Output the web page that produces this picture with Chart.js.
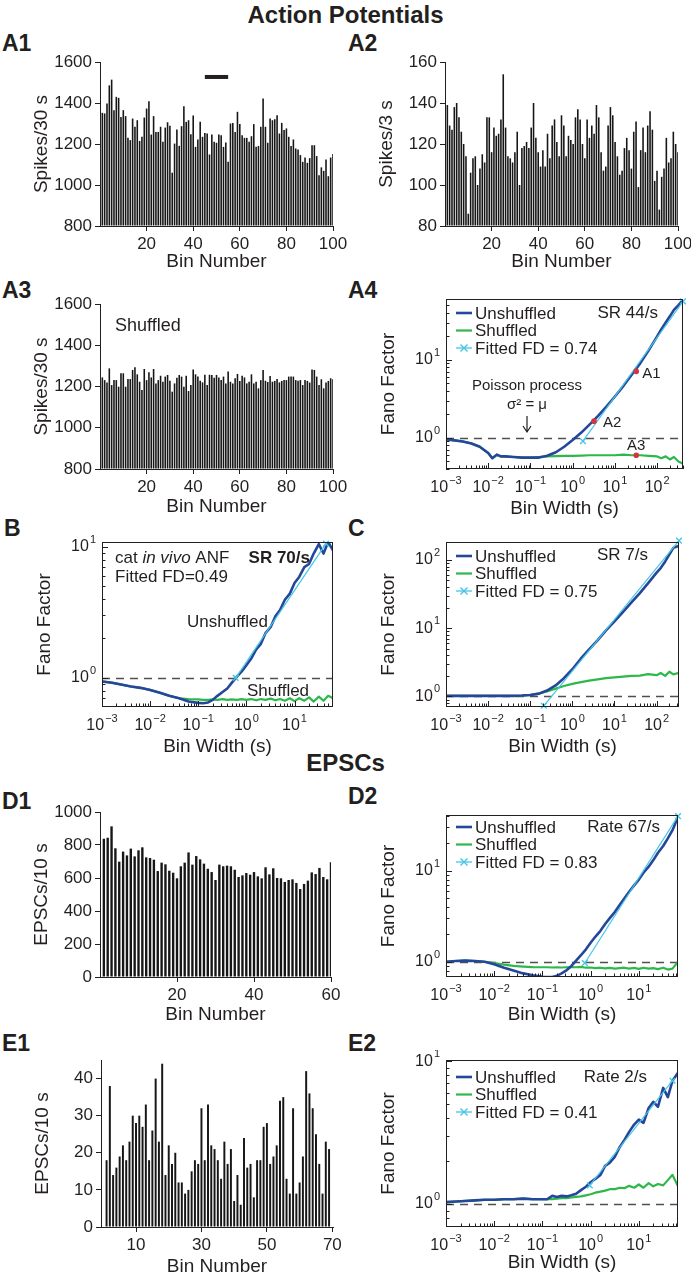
<!DOCTYPE html>
<html lang="en">
<head>
<meta charset="utf-8">
<title>Fano factor analysis</title>
<script src="https://cdn.jsdelivr.net/npm/chart.js@4.4.1/dist/chart.umd.min.js"></script>
<style>
  html, body { margin: 0; padding: 0; background: #fff; }
  #fig { position: relative; width: 691px; height: 1280px; overflow: hidden;
         font-family: "Liberation Sans", Arial, sans-serif; color: #231f20; }
  .head { position: absolute; left: 0; width: 691px; text-align: center; font-weight: bold; font-size: 24px; line-height: 1; }
  .lab { position: absolute; font-weight: bold; font-size: 23px; line-height: 1; }
  #fig canvas { position: absolute; }
</style>
</head>
<body>
<div id="fig">
  <div class="head" style="top:3px">Action Potentials</div>
  <div class="lab" style="left:2px;top:32px">A1</div>
  <div class="lab" style="left:348px;top:32px">A2</div>
  <div class="lab" style="left:2px;top:279px">A3</div>
  <div class="lab" style="left:348px;top:279px">A4</div>
  <div class="lab" style="left:4px;top:517px">B</div>
  <div class="lab" style="left:348px;top:517px">C</div>
  <div class="head" style="top:751px">EPSCs</div>
  <div class="lab" style="left:2px;top:790px">D1</div>
  <div class="lab" style="left:348px;top:785px">D2</div>
  <div class="lab" style="left:2px;top:1032px">E1</div>
  <div class="lab" style="left:348px;top:1032px">E2</div>
  <canvas id="a1"></canvas>
  <canvas id="a2"></canvas>
  <canvas id="a3"></canvas>
  <canvas id="a4"></canvas>
  <canvas id="b"></canvas>
  <canvas id="c"></canvas>
  <canvas id="d1"></canvas>
  <canvas id="d2"></canvas>
  <canvas id="e1"></canvas>
  <canvas id="e2"></canvas>
</div>
<script>
const FONT = '"Liberation Sans", Arial, sans-serif';
const INK = '#231f20';
const BAR = '#161616';
const BLUE = '#24479a';
const GREEN = '#2eb84b';
const CYAN = '#45c6e6';
const RED = '#d6333a';

// ---------- count histograms ----------
const bins100 = Array.from({ length: 100 }, (_, i) => i + 1);
const bins60 = Array.from({ length: 60 }, (_, i) => i + 1);
const bins69 = Array.from({ length: 69 }, (_, i) => i + 1);

const spikesA1 = [1352,1349,1397,1486,1514,1365,1430,1425,1332,1365,
  1336,1230,1219,1324,1284,1316,1215,1235,1329,1373,
  1408,1246,1336,1259,1259,1284,1211,1280,1306,1289,
  1060,1202,1271,1191,1287,1384,1308,1316,1248,1339,
  1186,1222,1308,1235,1254,1251,1149,1246,1211,1206,
  1246,1243,1186,1207,1113,1300,1303,1258,1357,1297,
  1243,1230,1230,1211,1238,1297,1186,1190,1284,1422,
  1284,1206,1324,1316,1321,1340,1251,1303,1268,1276,
  1235,1190,1222,1178,1173,1146,1113,1134,1108,1131,
  1194,1194,1141,1048,1086,1069,1125,1043,1134,1151];

const spikesA2 = [139,129,127,138,140,133,126,120,114,86,
  106,113,114,100,108,115,111,133,133,116,
  128,124,125,132,154,128,114,113,111,116,
  126,100,118,119,121,118,128,140,123,116,
  109,117,109,125,113,129,132,121,114,134,
  129,114,124,122,120,133,137,132,120,113,
  132,123,129,125,139,133,116,107,109,129,
  138,134,121,114,105,107,118,123,117,108,
  126,131,99,117,128,116,129,136,127,102,
  107,88,104,108,123,111,113,126,120,116];

const spikesA3 = [1244,1231,1219,1288,1207,1231,1231,1199,1264,1264,
  1199,1236,1236,1280,1293,1259,1223,1183,1285,1231,
  1269,1244,1285,1215,1231,1252,1223,1248,1256,1228,
  1175,1215,1243,1256,1248,1199,1252,1178,1207,1283,
  1259,1248,1228,1220,1257,1207,1257,1256,1243,1256,
  1244,1231,1248,1215,1273,1223,1215,1240,1261,1227,
  1252,1244,1215,1223,1259,1215,1223,1191,1231,1280,
  1228,1222,1251,1223,1227,1236,1220,1227,1231,1231,
  1248,1248,1248,1231,1228,1231,1207,1231,1227,1219,
  1283,1280,1248,1207,1235,1191,1219,1227,1240,1235];

const epscD1 = [838,844,913,780,699,760,737,778,731,768,
  786,725,721,711,642,693,683,644,632,598,
  671,693,755,681,733,713,687,656,636,588,
  681,671,675,671,650,606,616,630,620,636,
  610,598,665,622,659,600,598,576,588,592,
  570,533,564,584,634,624,661,606,592,695];

const epscE1 = [18,38,14,16,19,22,18,23,30,28,
  30,27,33,18,26,40,23,44,14,22,
  17,20,12,12,9,10,15,18,17,32,
  18,33,22,21,18,13,23,17,21,7,
  14,6,24,16,17,8,18,18,27,28,
  17,19,22,34,35,13,9,32,9,12,
  19,42,36,32,25,17,9,23,21];

// ---------- Fano factor curves (bin width in s) ----------
const widthA4 = [0.001,0.0016,0.0025,0.004,0.0063,0.01,0.0125,0.016,0.02,0.025,
  0.04,0.063,0.1,0.16,0.25,0.4,0.63,1,1.6,2.5,
  4,6.3,10,16,25,40,63,100,125,160,
  200,250,320,400];
const unshA4 = [0.96,0.93,0.90,0.85,0.77,0.64,0.55,0.61,0.58,0.58,
  0.57,0.56,0.56,0.56,0.59,0.655,0.77,0.94,1.17,1.48,
  1.91,2.52,3.39,4.64,6.42,9.06,13.2,19.9,24.5,30,
  36,43.6,50,57.5];
const shufA4 = [0.96,0.93,0.90,0.85,0.77,0.64,0.55,0.61,0.58,0.58,
  0.57,0.56,0.56,0.57,0.58,0.585,0.59,0.59,0.595,0.6,
  0.6,0.6,0.6,0.61,0.6,0.6,0.59,0.58,0.55,0.58,
  0.53,0.57,0.5,0.47];
const fitA4Width = [1.75, 410];
const fitA4Fano = [0.91, 56];
const markA4Width = [32, 3.2, 32];
const markA4Fano = [7.1, 1.64, 0.6];
const markA4Label = ['A1', 'A2', 'A3'];

const widthB = [0.001,0.0016,0.0025,0.004,0.0063,0.01,0.016,0.025,0.04,0.063,
  0.1,0.125,0.16,0.2,0.25,0.32,0.4,0.5,0.63,0.8,
  1,1.25,1.6,2,2.5,3.2,4,5,6.3,8,
  10,12.5,16,20,25,32,40,50,63];
const unshB = [0.94,0.92,0.89,0.86,0.84,0.81,0.77,0.73,0.70,0.66,
  0.645,0.64,0.65,0.68,0.73,0.78,0.83,0.92,1.02,1.12,
  1.25,1.40,1.65,1.82,2.2,2.45,2.95,3.3,3.95,4.4,
  5.3,5.9,7.0,7.4,8.9,10.5,8.9,10.9,9.4];
const shufB = [0.94,0.92,0.89,0.86,0.84,0.81,0.77,0.73,0.70,0.69,
  0.685,0.68,0.68,0.685,0.68,0.69,0.68,0.685,0.68,0.69,
  0.68,0.69,0.675,0.69,0.68,0.695,0.675,0.69,0.67,0.70,
  0.665,0.70,0.67,0.71,0.66,0.72,0.67,0.73,0.70];
const fitBWidth = [0.6, 45];
const fitBFano = [1.0, 10.6];

const widthC = [0.001,0.0016,0.0025,0.004,0.0063,0.01,0.016,0.025,0.04,0.063,
  0.1,0.16,0.25,0.4,0.63,1,1.6,2.5,4,6.3,
  10,16,25,40,63,100,125,160,200,250,
  330];
const unshC = [1.02,1.02,1.02,1.02,1.02,1.02,1.02,1.02,1.02,1.03,
  1.05,1.1,1.22,1.45,1.85,2.5,3.6,4.9,6.7,9.3,
  12.6,17.3,23.6,32.6,45.7,65,76,95,120,150,
  160];
const shufC = [1.02,1.02,1.02,1.02,1.02,1.02,1.02,1.02,1.02,1.03,
  1.05,1.1,1.18,1.3,1.42,1.53,1.62,1.7,1.78,1.85,
  1.9,1.95,2.0,2.02,2.12,2.05,2.2,2.0,2.3,2.1,
  2.2];
const fitCWidth = [0.21, 340];
const fitCFano = [0.73, 192];

const widthD2 = [0.001,0.0016,0.0025,0.004,0.0063,0.01,0.016,0.025,0.04,0.063,
  0.1,0.125,0.16,0.2,0.25,0.32,0.4,0.5,0.63,0.8,
  1,1.25,1.6,2,2.5,3.2,4,5,6.3,8,
  10,12.5,16,20,25,32,40,50,65];
const unshD2 = [1.0,1.02,1.03,1.02,1.0,0.94,0.86,0.80,0.745,0.71,
  0.685,0.68,0.68,0.70,0.745,0.81,0.9,1.03,1.18,1.37,
  1.62,1.88,2.19,2.6,3.02,3.54,4.2,4.96,5.87,6.9,
  8.0,9.5,11.1,13.1,15.8,18.7,22.7,27.9,39];
const shufD2 = [1.0,1.02,1.03,1.02,1.0,0.97,0.93,0.9,0.885,0.875,
  0.87,0.87,0.865,0.87,0.865,0.87,0.875,0.87,0.88,0.86,
  0.865,0.85,0.86,0.845,0.855,0.84,0.85,0.86,0.84,0.855,
  0.835,0.86,0.84,0.85,0.83,0.86,0.82,0.84,1.0];
const fitD2Width = [0.76, 65];
const fitD2Fano = [0.97, 39.8];

const widthE2 = [0.001,0.0016,0.0025,0.004,0.0063,0.01,0.016,0.025,0.04,0.063,
  0.1,0.125,0.16,0.2,0.25,0.32,0.4,0.5,0.63,0.8,
  1,1.25,1.6,2,2.5,3.2,4,5,6.3,8,
  10,12.5,16,20,25,32,40,50,65];
const unshE2 = [1.03,1.04,1.05,1.06,1.07,1.07,1.08,1.08,1.09,1.08,
  1.08,1.08,1.14,1.12,1.14,1.13,1.15,1.18,1.25,1.32,
  1.42,1.5,1.6,1.85,1.95,2.15,2.5,2.8,3.2,3.6,
  3.9,3.7,4.7,5.2,4.8,6.5,5.6,7.3,8.3];
const shufE2 = [1.03,1.04,1.05,1.06,1.07,1.07,1.08,1.08,1.09,1.08,
  1.08,1.08,1.08,1.09,1.1,1.1,1.11,1.12,1.13,1.15,
  1.17,1.2,1.22,1.24,1.27,1.27,1.3,1.29,1.34,1.3,
  1.37,1.3,1.4,1.33,1.38,1.35,1.47,1.6,1.33];
const fitE2Width = [0.96, 50];
const fitE2Fano = [1.35, 7.3];

// ---------- helpers ----------
Chart.defaults.font.family = FONT;
Chart.defaults.color = INK;

const PAD = { l: 100, r: 16, t: 10, b: 52 };

function sizeCanvas(id, box) {
  const cv = document.getElementById(id);
  const w = box.r - box.l + PAD.l + PAD.r;
  const h = box.b - box.t + PAD.t + PAD.b;
  cv.width = w; cv.height = h;
  cv.style.width = w + 'px'; cv.style.height = h + 'px';
  cv.style.left = (box.l - PAD.l) + 'px';
  cv.style.top = (box.t - PAD.t) + 'px';
  return cv;
}

function axisTitle(text, gap, vertical) {
  const half = 19 * 1.2 / 2;
  return {
    display: true, text, color: INK,
    font: { family: FONT, size: 19 },
    padding: vertical ? { top: PAD.l - gap - half, bottom: 0 } : { top: 0, bottom: PAD.b - gap - half }
  };
}

const fitX = s => { s.height = PAD.b; s.paddingLeft = 0; s.paddingRight = 0; };
const fitY = s => { s.width = PAD.l; s.paddingTop = 0; s.paddingBottom = 0; };

function barPanel(id, box, o) {
  const cv = sizeCanvas(id, box);
  const deco = {
    id: 'barDeco',
    afterDatasetsDraw(chart) {
      const { ctx, chartArea: a, scales: { x, y } } = chart;
      ctx.save();
      if (o.window) {
        ctx.strokeStyle = INK; ctx.lineWidth = 4;
        ctx.beginPath();
        ctx.moveTo(x.getPixelForValue(o.window[0]), y.getPixelForValue(o.window[2]));
        ctx.lineTo(x.getPixelForValue(o.window[1]), y.getPixelForValue(o.window[2]));
        ctx.stroke();
      }
      if (o.note) {
        ctx.fillStyle = INK; ctx.font = `18px ${FONT}`;
        ctx.textAlign = 'left'; ctx.textBaseline = 'middle';
        ctx.fillText(o.note[0], a.left + o.note[1], a.top + o.note[2]);
      }
      ctx.restore();
    }
  };
  const tickStyle = { color: INK, font: { family: FONT, size: 17 }, padding: 3, maxRotation: 0, autoSkip: false, callback: v => String(v) };
  const gridStyle = { display: true, offset: false, drawOnChartArea: false, drawTicks: true, tickLength: 5, tickColor: INK, color: INK };
  new Chart(cv, {
    type: 'bar',
    data: {
      datasets: [{
        data: o.bins.map((b, i) => ({ x: b, y: o.values[i] })),
        backgroundColor: BAR, borderWidth: 0, base: o.yMin,
        barPercentage: o.barPct, categoryPercentage: 1
      }]
    },
    options: {
      responsive: false, animation: false, devicePixelRatio: 1,
      layout: { padding: { left: 0, top: PAD.t, right: PAD.r, bottom: 0 } },
      plugins: { legend: { display: false }, tooltip: { enabled: false } },
      scales: {
        x: {
          type: 'linear', min: o.xMin, max: o.xMax, offset: false,
          afterBuildTicks: s => { s.ticks = o.xTicks.map(v => ({ value: v })); },
          afterFit: fitX, grid: gridStyle,
          border: { display: true, color: INK, width: 1 },
          ticks: tickStyle,
          title: axisTitle('Bin Number', o.xGap || 38, false)
        },
        y: {
          type: 'linear', min: o.yMin, max: o.yMax,
          afterBuildTicks: s => { s.ticks = o.yTicks.map(v => ({ value: v })); },
          afterFit: fitY, grid: gridStyle,
          border: { display: true, color: INK, width: 1 },
          ticks: tickStyle,
          title: axisTitle(o.yTitle, 58, true)
        }
      }
    },
    plugins: [deco]
  });
}

function decadeTicks(min, max) {
  const out = [];
  for (let e = Math.floor(Math.log10(min)); e <= Math.ceil(Math.log10(max)); e++) {
    for (let m = 1; m < 10; m++) {
      const v = m * Math.pow(10, e);
      if (v >= min * 0.9999 && v <= max * 1.0001) out.push({ v, e, major: m === 1 });
    }
  }
  return out;
}

function powerLabel(ctx, e, px, py, align) {
  const exp = (e < 0 ? '\u2212' : '') + Math.abs(e);
  ctx.font = `16px ${FONT}`;
  const wb = ctx.measureText('10').width;
  ctx.font = `11px ${FONT}`;
  const we = ctx.measureText(exp).width;
  const w = wb + 1 + we;
  const x0 = align === 'right' ? px - w : px - w / 2;
  ctx.textAlign = 'left'; ctx.textBaseline = 'middle';
  ctx.font = `16px ${FONT}`; ctx.fillText('10', x0, py);
  ctx.font = `11px ${FONT}`; ctx.fillText(exp, x0 + wb + 1, py - 7);
}

function fanoPanel(id, box, o) {
  const cv = sizeCanvas(id, box);
  const pts = (xs, ys) => xs.map((v, i) => ({ x: v, y: ys[i] }));
  const deco = {
    id: 'fanoDeco',
    beforeDatasetsDraw(chart) {
      const { ctx, chartArea: a, scales: { y } } = chart;
      const py = Math.round(y.getPixelForValue(1)) + 0.5;
      ctx.save();
      ctx.strokeStyle = '#505050'; ctx.lineWidth = 1.3; ctx.setLineDash([8, 6]);
      ctx.beginPath(); ctx.moveTo(a.left, py); ctx.lineTo(a.right, py); ctx.stroke();
      ctx.restore();
    },
    afterDatasetsDraw(chart) {
      const { ctx, chartArea: a, scales: { x, y } } = chart;
      ctx.save();
      ctx.textBaseline = 'middle';
      if (o.legendY !== undefined) {
        const items = [['Unshuffled', BLUE, 2.6], ['Shuffled', GREEN, 2.2], [o.fitLabel, CYAN, 1.3]];
        items.forEach((it, k) => {
          const yy = a.top + o.legendY + k * 17.5;
          ctx.strokeStyle = it[1]; ctx.lineWidth = it[2];
          ctx.beginPath(); ctx.moveTo(a.left + 10, yy); ctx.lineTo(a.left + 26, yy); ctx.stroke();
          if (k === 2) {
            const cx = a.left + 18;
            ctx.lineWidth = 1.4;
            ctx.beginPath();
            ctx.moveTo(cx - 3.5, yy - 3.5); ctx.lineTo(cx + 3.5, yy + 3.5);
            ctx.moveTo(cx - 3.5, yy + 3.5); ctx.lineTo(cx + 3.5, yy - 3.5);
            ctx.stroke();
          }
          ctx.fillStyle = INK; ctx.font = `17px ${FONT}`; ctx.textAlign = 'left';
          ctx.fillText(it[0], a.left + 29, yy + 1);
        });
      }
      (o.texts || []).forEach(t => {
        ctx.fillStyle = INK;
        if (t.parts) {
          let cx = a.left + t.x;
          ctx.textAlign = 'left';
          t.parts.forEach(p => {
            ctx.font = `${p[1]} 17px ${FONT}`;
            ctx.fillText(p[0], cx, a.top + t.y);
            cx += ctx.measureText(p[0]).width;
          });
        } else {
          ctx.font = t.font || `17px ${FONT}`;
          ctx.textAlign = t.align || 'left';
          ctx.fillText(t.text, a.left + t.x, a.top + t.y);
        }
      });
      if (o.marks) {
        o.marks.x.forEach((mx, i) => {
          const px = x.getPixelForValue(mx), py = y.getPixelForValue(o.marks.y[i]);
          ctx.fillStyle = RED;
          ctx.beginPath(); ctx.arc(px, py, 2.8, 0, Math.PI * 2); ctx.fill();
          ctx.fillStyle = INK; ctx.font = `15px ${FONT}`;
          ctx.textAlign = o.marks.align[i];
          ctx.fillText(o.marks.label[i], px + o.marks.dx[i], py + o.marks.dy[i]);
        });
      }
      if (o.arrow) {
        const ax = a.left + o.arrow[0], y0 = a.top + o.arrow[1], y1 = a.top + o.arrow[2];
        ctx.strokeStyle = INK; ctx.lineWidth = 1.2;
        ctx.beginPath();
        ctx.moveTo(ax, y0); ctx.lineTo(ax, y1);
        ctx.moveTo(ax - 4, y1 - 6); ctx.lineTo(ax, y1); ctx.lineTo(ax + 4, y1 - 6);
        ctx.stroke();
      }
      ctx.restore();
    },
    afterDraw(chart) {
      const { ctx, chartArea: a, scales: { x, y } } = chart;
      ctx.save();
      ctx.strokeStyle = INK; ctx.lineWidth = 1;
      ctx.strokeRect(a.left + 0.5, a.top + 0.5, a.right - a.left - 1, a.bottom - a.top - 1);
      const xt = decadeTicks(o.xMin, o.xMax), yt = decadeTicks(o.yMin, o.yMax);
      ctx.beginPath();
      xt.forEach(t => {
        const px = Math.round(x.getPixelForValue(t.v)) + 0.5;
        ctx.moveTo(px, a.bottom); ctx.lineTo(px, a.bottom - (t.major ? 6 : 3.5));
      });
      yt.forEach(t => {
        const py = Math.round(y.getPixelForValue(t.v)) + 0.5;
        ctx.moveTo(a.left, py); ctx.lineTo(a.left + (t.major ? 6 : 3.5), py);
      });
      ctx.stroke();
      ctx.fillStyle = INK;
      xt.filter(t => t.major).forEach(t => powerLabel(ctx, t.e, x.getPixelForValue(t.v), a.bottom + 19, 'center'));
      yt.filter(t => t.major).forEach(t => powerLabel(ctx, t.e, a.left - 6, y.getPixelForValue(t.v), 'right'));
      ctx.restore();
    }
  };
  new Chart(cv, {
    type: 'line',
    data: {
      datasets: [
        { data: pts(o.fitX, o.fitY), borderColor: CYAN, borderWidth: 1.2, pointStyle: 'crossRot',
          pointRadius: 4, pointBorderColor: CYAN, pointBorderWidth: 1.4, clip: 6 },
        { data: pts(o.xs, o.unsh), borderColor: BLUE, borderWidth: 2.6, pointRadius: 0 },
        { data: pts(o.xs, o.shuf), borderColor: GREEN, borderWidth: 2.2, pointRadius: 0 }
      ]
    },
    options: {
      responsive: false, animation: false, devicePixelRatio: 1,
      layout: { padding: { left: 0, top: PAD.t, right: PAD.r, bottom: 0 } },
      plugins: { legend: { display: false }, tooltip: { enabled: false } },
      elements: { line: { tension: 0, borderJoinStyle: 'round' } },
      scales: {
        x: {
          type: 'logarithmic', min: o.xMin, max: o.xMax,
          ticks: { display: false }, grid: { display: false }, border: { display: false },
          afterFit: fitX, title: axisTitle('Bin Width (s)', o.xGap || 38, false)
        },
        y: {
          type: 'logarithmic', min: o.yMin, max: o.yMax,
          ticks: { display: false }, grid: { display: false }, border: { display: false },
          afterFit: fitY, title: axisTitle('Fano Factor', 57, true)
        }
      }
    },
    plugins: [deco]
  });
}

// ---------- panels ----------
barPanel('a1', { l: 100, t: 62, r: 333, b: 226 }, {
  bins: bins100, values: spikesA1, barPct: 0.68, xMin: 0, xMax: 100, xTicks: [20, 40, 60, 80, 100],
  yMin: 800, yMax: 1600, yTicks: [800, 1000, 1200, 1400, 1600], yTitle: 'Spikes/30 s', xGap: 36,
  window: [45, 55, 1527]
});
barPanel('a2', { l: 445, t: 62, r: 678, b: 226 }, {
  bins: bins100, values: spikesA2, barPct: 0.68, xMin: 0, xMax: 100, xTicks: [20, 40, 60, 80, 100],
  yMin: 80, yMax: 160, yTicks: [80, 100, 120, 140, 160], yTitle: 'Spikes/3 s', xGap: 36
});
barPanel('a3', { l: 100, t: 304, r: 333, b: 469 }, {
  bins: bins100, values: spikesA3, barPct: 0.68, xMin: 0, xMax: 100, xTicks: [20, 40, 60, 80, 100],
  yMin: 800, yMax: 1600, yTicks: [800, 1000, 1200, 1400, 1600], yTitle: 'Spikes/30 s',
  note: ['Shuffled', 15, 22]
});
fanoPanel('a4', { l: 446, t: 299, r: 683, b: 469 }, {
  xs: widthA4, unsh: unshA4, shuf: shufA4, fitX: fitA4Width, fitY: fitA4Fano,
  xMin: 0.001, xMax: 410, yMin: 0.4, yMax: 60, xGap: 40,
  legendY: 14, fitLabel: 'Fitted FD = 0.74',
  texts: [
    { text: 'SR 44/s', x: 212, y: 14, align: 'right' },
    { text: 'Poisson process', x: 81, y: 87, align: 'center', font: `15px ${FONT}` },
    { text: '\u03c3\u00b2 = \u03bc', x: 81, y: 106, align: 'center', font: `15px ${FONT}` }
  ],
  arrow: [81, 117, 133],
  marks: { x: markA4Width, y: markA4Fano, label: markA4Label, dx: [6, 9, 0], dy: [2, 2, -9], align: ['left', 'left', 'center'] }
});
fanoPanel('b', { l: 102, t: 542, r: 333, b: 707 }, {
  xs: widthB, unsh: unshB, shuf: shufB, fitX: fitBWidth, fitY: fitBFano,
  xMin: 0.001, xMax: 63, yMin: 0.61, yMax: 10.9, xGap: 40,
  texts: [
    { parts: [['cat ', ''], ['in vivo', 'italic'], [' ANF', '']], x: 13, y: 16 },
    { text: 'Fitted FD=0.49', x: 13, y: 35 },
    { text: 'SR 70/s', x: 208, y: 16, align: 'right', font: `bold 17px ${FONT}` },
    { text: 'Unshuffled', x: 85, y: 80 },
    { text: 'Shuffled', x: 145, y: 149 }
  ]
});
fanoPanel('c', { l: 446, t: 542, r: 679, b: 707 }, {
  xs: widthC, unsh: unshC, shuf: shufC, fitX: fitCWidth, fitY: fitCFano,
  xMin: 0.001, xMax: 340, yMin: 0.71, yMax: 183, xGap: 40,
  legendY: 14, fitLabel: 'Fitted FD = 0.75',
  texts: [{ text: 'SR 7/s', x: 202, y: 13, align: 'right' }]
});
barPanel('d1', { l: 100, t: 812, r: 331, b: 977 }, {
  bins: bins60, values: epscD1, barPct: 0.62, xMin: 0, xMax: 60, xTicks: [20, 40, 60],
  yMin: 0, yMax: 1000, yTicks: [0, 200, 400, 600, 800, 1000], yTitle: 'EPSCs/10 s'
});
fanoPanel('d2', { l: 446, t: 815, r: 678, b: 977 }, {
  xs: widthD2, unsh: unshD2, shuf: shufD2, fitX: fitD2Width, fitY: fitD2Fano,
  xMin: 0.001, xMax: 65, yMin: 0.68, yMax: 41,
  legendY: 12, fitLabel: 'Fitted FD = 0.83',
  texts: [{ text: 'Rate 67/s', x: 214, y: 12, align: 'right' }]
});
barPanel('e1', { l: 101, t: 1060, r: 333, b: 1227 }, {
  bins: bins69, values: epscE1, barPct: 0.6, xMin: -0.7, xMax: 70.2, xTicks: [10, 30, 50, 70],
  yMin: 0, yMax: 45, yTicks: [0, 10, 20, 30, 40], yTitle: 'EPSCs/10 s', xGap: 40
});
fanoPanel('e2', { l: 446, t: 1060, r: 678, b: 1227 }, {
  xs: widthE2, unsh: unshE2, shuf: shufE2, fitX: fitE2Width, fitY: fitE2Fano,
  xMin: 0.001, xMax: 65, yMin: 0.69, yMax: 10.2, xGap: 36,
  legendY: 17, fitLabel: 'Fitted FD = 0.41',
  texts: [{ text: 'Rate 2/s', x: 201, y: 17, align: 'right' }]
});
</script>
</body>
</html>
